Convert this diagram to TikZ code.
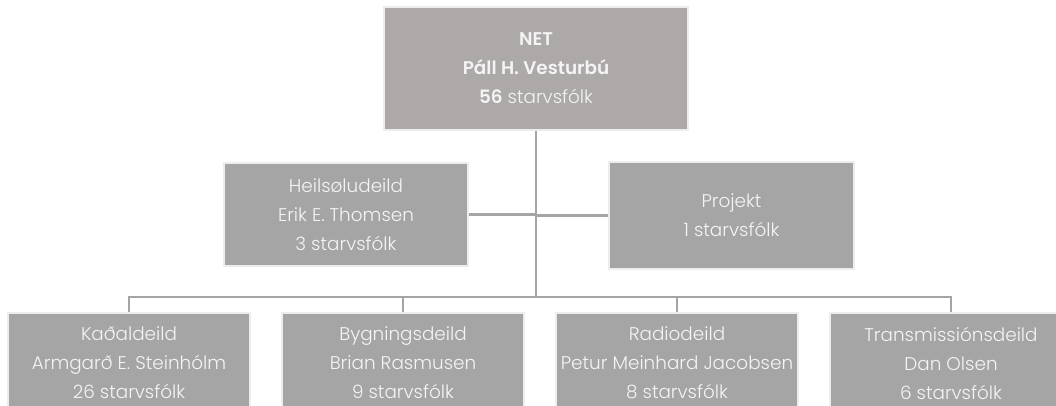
\documentclass[tikz,border=0pt]{standalone}
\usepackage{fontspec}
\setmainfont{Poppins}[UprightFont={* Light},BoldFont={* SemiBold}]
\usetikzlibrary{positioning}

\definecolor{boxgrey}{HTML}{A5A5A5}
\definecolor{topgrey}{HTML}{ADA9A8}
\definecolor{edgegrey}{HTML}{EDEDED}
\definecolor{textwhite}{HTML}{F4F4F4}

\tikzset{
  unit/.style={fill=boxgrey, draw=edgegrey, line width=1.5pt, text=textwhite,
    align=center, inner sep=0pt, font=\fontsize{13.8}{21.75}\selectfont},
  deptunit/.style={unit, minimum width=181.5pt, minimum height=75pt},
  link/.style={draw=boxgrey, line width=2pt},
}

\begin{document}
\begin{tikzpicture}[x=0.75pt,y=-0.75pt]
      \useasboundingbox (0,0) rectangle (1056,405);
      \node[unit, fill=topgrey, minimum width=228pt, minimum height=92.25pt] (net) at (536,68.5)
        {\textbf{NET}\\\textbf{Páll H. Vesturbú}\\\textbf{56} starvsfólk};
      \node[unit, minimum width=183pt, minimum height=77.25pt] (sale) at (346,214.5)
        {Heilsøludeild\\Erik E. Thomsen\\3 starvsfólk};
      \node[unit, minimum width=183.75pt, minimum height=80.25pt] (proj) at (731.5,215.5)
        {Projekt\\1 starvsfólk};
      % departments
      \node[deptunit, anchor=north] (cable) at (129,312) {Kaðaldeild\\Armgarð E. Steinhólm\\26 starvsfólk};
      \node[deptunit, right=22.5pt of cable] (build) {Bygningsdeild\\Brian Rasmusen\\9 starvsfólk};
      \node[deptunit, right=22.5pt of build] (radio) {Radiodeild\\Petur Meinhard Jacobsen\\8 starvsfólk};
      \node[deptunit, right=22.5pt of radio] (trans) {Transmissiónsdeild\\Dan Olsen\\6 starvsfólk};
      \coordinate (bus) at (536,297);
      \draw[link] (net.south -| bus) -- (bus);
      \draw[link, line width=1.6pt] (sale.east) -- (sale.east -| bus);
      \draw[link, line width=1.6pt] (proj.west) -- (proj.west -| bus);
      \draw[link] (cable.north) -- (cable.north |- bus) -- (trans.north |- bus) -- (trans.north);
      \draw[link] (build.north) -- (build.north |- bus);
      \draw[link] (radio.north) -- (radio.north |- bus);
    \end{tikzpicture}
\end{document}
